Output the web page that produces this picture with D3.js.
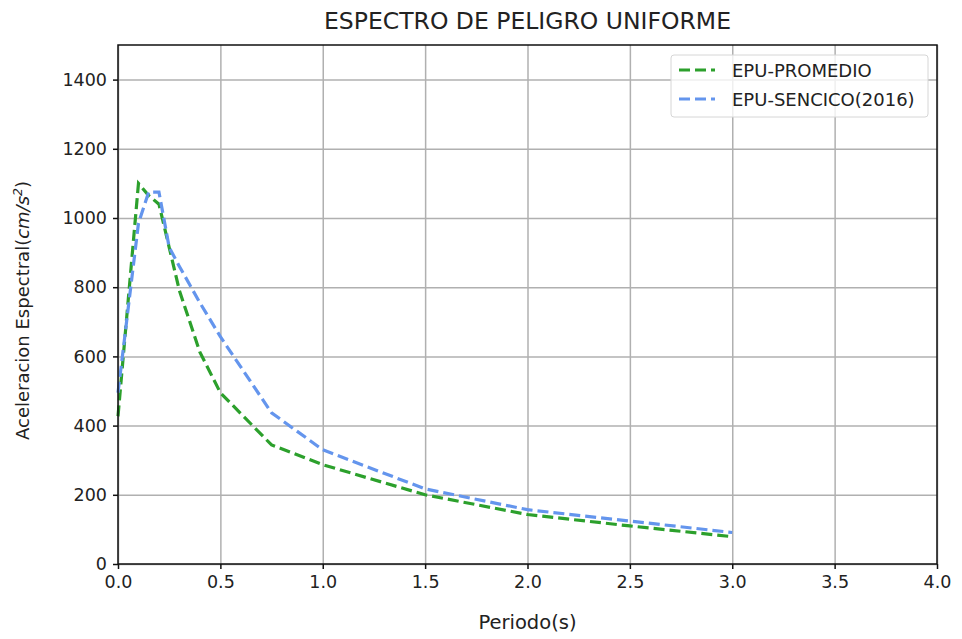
<!DOCTYPE html>
<html>
<head>
<meta charset="utf-8">
<script src="https://cdn.jsdelivr.net/npm/d3@7"></script>
<style>
  body { margin: 0; background: #fff; }
  text { font-family: "DejaVu Sans", sans-serif; fill: #222; }
  .grid line { stroke: #b0b0b0; stroke-width: 1.5; }
  .grid path { display: none; }
  .axis path, .axis line { stroke: #111; stroke-width: 1.5; }
</style>
</head>
<body>
<svg id="chart" width="962" height="639"></svg>
<script>
// periods (s) and spectral accelerations (cm/s2)
var promedioT = [0, 0.1, 0.15, 0.2, 0.3, 0.4, 0.5, 0.75, 1.0, 1.5, 2.0, 2.5, 3.0];
var promedioSa = [427, 1100, 1065, 1040, 790, 612, 495, 344, 287, 200, 143, 110, 79];

var sencicoT = [0, 0.1, 0.15, 0.2, 0.25, 0.3, 0.4, 0.5, 0.75, 1.0, 1.5, 2.0, 2.5, 3.0];
var sencicoSa = [495, 985, 1075, 1075, 915, 860, 755, 657, 437, 330, 217, 157, 124, 91];

var xTicks = [0, 0.5, 1, 1.5, 2, 2.5, 3, 3.5, 4];
var yTicks = [0, 200, 400, 600, 800, 1000, 1200, 1400];

var seriesNames = ["EPU-PROMEDIO", "EPU-SENCICO(2016)"];
var seriesColors = ["#2ca02c", "#6495ed"];

var svg = d3.select("#chart");
var plotLeft = 118, plotRight = 937, plotTop = 45, plotBottom = 564;

var x = d3.scaleLinear().domain([0, 4]).range([plotLeft, plotRight]);
var y = d3.scaleLinear().domain([0, 1500]).range([plotBottom, plotTop]);

// grid
svg.append("g").attr("class", "grid")
  .attr("transform", "translate(0," + plotBottom + ")")
  .call(d3.axisBottom(x).tickValues(xTicks).tickSize(-(plotBottom - plotTop)).tickFormat(""));
svg.append("g").attr("class", "grid")
  .attr("transform", "translate(" + plotLeft + ",0)")
  .call(d3.axisLeft(y).tickValues(yTicks).tickSize(-(plotRight - plotLeft)).tickFormat(""));

// lines
var line = d3.line()
  .x(function (d) { return x(d[0]); })
  .y(function (d) { return y(d[1]); });

var series = [
  d3.zip(promedioT, promedioSa),
  d3.zip(sencicoT, sencicoSa)
];

series.forEach(function (s, i) {
  svg.append("path")
    .datum(s)
    .attr("d", line)
    .attr("fill", "none")
    .attr("stroke", seriesColors[i])
    .attr("stroke-width", 3.2)
    .attr("stroke-dasharray", "11,5");
});

// frame
svg.append("rect")
  .attr("x", plotLeft).attr("y", plotTop)
  .attr("width", plotRight - plotLeft).attr("height", plotBottom - plotTop)
  .attr("fill", "none").attr("stroke", "#111").attr("stroke-width", 1.5);

// axes
var xAxis = svg.append("g").attr("class", "axis")
  .attr("transform", "translate(0," + plotBottom + ")")
  .call(d3.axisBottom(x).tickValues(xTicks).tickSize(5).tickPadding(7).tickFormat(d3.format(".1f")));
var yAxis = svg.append("g").attr("class", "axis")
  .attr("transform", "translate(" + plotLeft + ",0)")
  .call(d3.axisLeft(y).tickValues(yTicks).tickSize(5).tickPadding(6).tickFormat(d3.format("d")));
xAxis.select(".domain").remove();
yAxis.select(".domain").remove();
svg.selectAll(".axis text").style("font-size", "17.5px").attr("fill", "#222");

// title and labels
svg.append("text")
  .attr("x", (plotLeft + plotRight) / 2).attr("y", 29)
  .attr("text-anchor", "middle")
  .style("font-size", "23.5px")
  .text("ESPECTRO DE PELIGRO UNIFORME");

svg.append("text")
  .attr("x", (plotLeft + plotRight) / 2).attr("y", 629)
  .attr("text-anchor", "middle")
  .style("font-size", "19.5px")
  .text("Periodo(s)");

var yl = svg.append("text")
  .attr("transform", "translate(29," + ((plotTop + plotBottom) / 2 + 6) + ") rotate(-90)")
  .attr("text-anchor", "middle")
  .style("font-size", "18px");
yl.append("tspan").text("Aceleracion Espectral(");
yl.append("tspan").style("font-style", "italic").text("cm/s");
yl.append("tspan").attr("dy", -7).style("font-size", "12.5px").style("font-style", "italic").text("2");
yl.append("tspan").attr("dy", 7).text(")");

// legend
var lg = svg.append("g").attr("transform", "translate(671,55)");
lg.append("rect")
  .attr("width", 257).attr("height", 62).attr("rx", 3)
  .attr("fill", "#fff").attr("fill-opacity", 0.8)
  .attr("stroke", "#d6d6d6").attr("stroke-width", 1);

seriesNames.forEach(function (name, i) {
  var ly = 15 + i * 29;
  lg.append("line")
    .attr("x1", 8).attr("x2", 44)
    .attr("y1", ly).attr("y2", ly)
    .attr("stroke", seriesColors[i])
    .attr("stroke-width", 3.2)
    .attr("stroke-dasharray", "11,5");
  lg.append("text")
    .attr("x", 61).attr("y", ly + 6.5)
    .style("font-size", "18px")
    .text(name);
});
</script>
</body>
</html>
